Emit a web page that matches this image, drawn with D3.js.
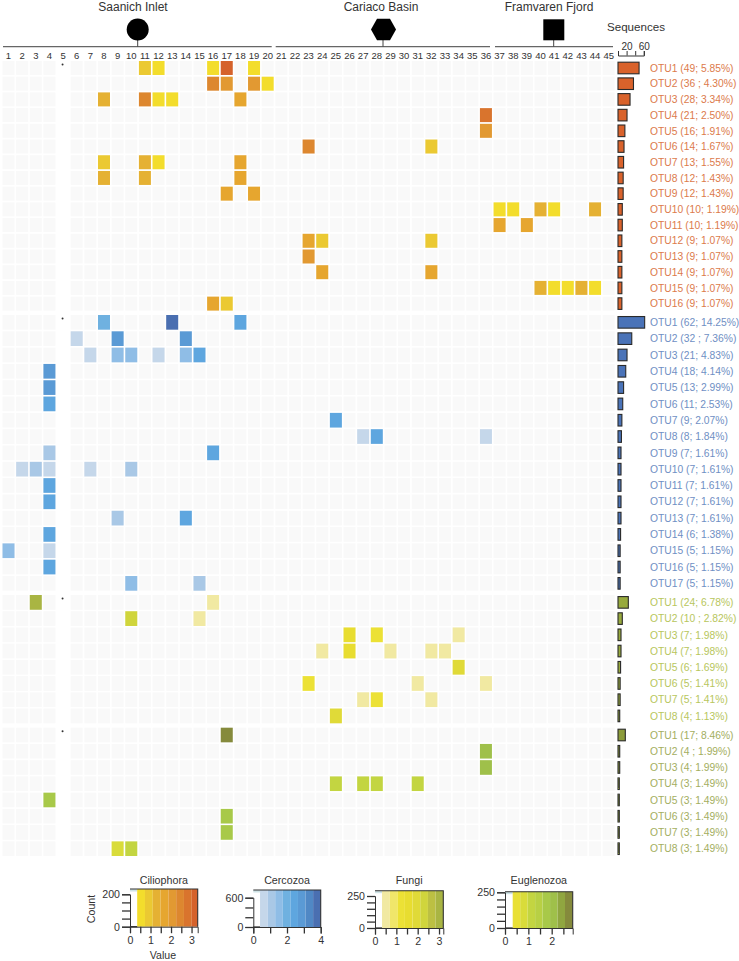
<!DOCTYPE html>
<html>
<head>
<meta charset="utf-8">
<script src="https://cdnjs.cloudflare.com/ajax/libs/d3/7.8.5/d3.min.js"></script>
<style>
  body { margin: 0; background: #fff; }
  text { font-family: "Liberation Sans", Arial, sans-serif; fill: #333; }
  .domain { stroke: #333; }
</style>
</head>
<body>
<div id="chart"></div>
<script>
// site columns
var columns = d3.range(1, 46);
var sites = ["Saanich Inlet", "Cariaco Basin", "Framvaren Fjord"];
var sequenceTicks = [0, 20, 40, 60];

// counts and percentages next to each OTU, top to bottom
var ciliophoraCounts = [49, 36, 28, 21, 16, 14, 13, 12, 12, 10, 10, 9, 9, 9, 9, 9];
var ciliophoraPct = ["49; 5.85%", "36 ; 4.30%", "28; 3.34%", "21; 2.50%", "16; 1.91%", "14; 1.67%", "13; 1.55%", "12; 1.43%", "12; 1.43%", "10; 1.19%", "10; 1.19%", "9; 1.07%", "9; 1.07%", "9; 1.07%", "9; 1.07%", "9; 1.07%"];
var cercozoaCounts = [62, 32, 21, 18, 13, 11, 9, 8, 7, 7, 7, 7, 7, 6, 5, 5, 5];
var cercozoaPct = ["62; 14.25%", "32 ; 7.36%", "21; 4.83%", "18; 4.14%", "13; 2.99%", "11; 2.53%", "9; 2.07%", "8; 1.84%", "7; 1.61%", "7; 1.61%", "7; 1.61%", "7; 1.61%", "7; 1.61%", "6; 1.38%", "5; 1.15%", "5; 1.15%", "5; 1.15%"];
var fungiCounts = [24, 10, 7, 7, 6, 5, 5, 4];
var fungiPct = ["24; 6.78%", "10 ; 2.82%", "7; 1.98%", "7; 1.98%", "6; 1.69%", "5; 1.41%", "5; 1.41%", "4; 1.13%"];
var euglenozoaCounts = [17, 4, 4, 3, 3, 3, 3, 3];
var euglenozoaPct = ["17; 8.46%", "4 ; 1.99%", "4; 1.99%", "3; 1.49%", "3; 1.49%", "3; 1.49%", "3; 1.49%", "3; 1.49%"];

// heatmap cells: [otu row, site column, value]
var ciliophoraCells = [
  [1,11,1.1],[1,12,.69],[1,16,.69],[1,17,3.2],[1,19,.69],
  [2,16,2.4],[2,17,2.0],[2,19,2.0],[2,20,.69],
  [3,8,1.39],[3,11,2.6],[3,12,.69],[3,13,.69],[3,18,1.6],
  [4,36,2.8],[5,36,2.2],[6,23,2.6],[6,32,1.1],
  [7,8,1.1],[7,11,1.39],[7,12,.69],[7,18,1.6],
  [8,8,1.39],[8,11,1.39],[8,18,1.6],
  [9,17,1.6],[9,19,1.6],
  [10,37,.69],[10,38,.69],[10,40,1.39],[10,41,.69],[10,44,1.39],
  [11,37,1.6],[11,39,1.6],
  [12,23,1.8],[12,24,1.1],[12,32,1.1],
  [13,23,2.0],[14,24,1.6],[14,32,1.6],
  [15,40,1.39],[15,41,.69],[15,42,.69],[15,43,1.39],[15,44,.69],
  [16,16,1.6],[16,17,1.1]
];
var cercozoaCells = [
  [1,8,2.0],[1,13,3.8],[1,18,2.4],
  [2,6,.69],[2,9,3.0],[2,14,2.8],
  [3,7,.69],[3,9,1.39],[3,10,1.39],[3,12,.69],[3,14,1.39],[3,15,2.4],
  [4,4,3.0],[5,4,3.0],[6,4,2.4],[7,25,2.4],
  [8,27,.69],[8,28,2.4],[8,36,.69],
  [9,4,1.1],[9,16,2.4],
  [10,2,.69],[10,3,1.1],[10,4,.69],[10,7,.69],[10,10,1.1],
  [11,4,2.4],[12,4,2.4],
  [13,9,1.1],[13,14,2.4],
  [14,4,2.4],[15,1,1.39],[15,4,.69],[16,4,2.4],
  [17,10,1.39],[17,15,1.1]
];
var fungiCells = [
  [1,3,3.0],[1,16,.5],
  [2,10,2.3],[2,15,.5],
  [3,26,1.5],[3,28,1.2],[3,34,.5],
  [4,24,.5],[4,26,1.5],[4,29,.5],[4,32,.5],[4,33,.5],
  [5,34,1.9],
  [6,23,1.2],[6,31,.5],[6,36,.5],
  [7,27,.5],[7,28,1.2],[7,32,.5],
  [8,25,1.9]
];
var euglenozoaCells = [
  [1,17,2.7],[2,36,2.1],[3,36,2.1],
  [4,25,1.1],[4,27,1.1],[4,28,1.1],[4,31,1.1],
  [5,4,1.8],[6,17,1.8],[7,17,1.8],
  [8,9,.8],[8,10,1.1]
];

// colour keys
var ciliophoraBreaks = [.35,.73,1.11,1.49,1.87,2.25,2.63,3.01,3.3];
var ciliophoraColors = ["#f3dd2c","#ebc932","#e5b133","#e6a62f","#e29932","#dd872f","#d9742d","#d5622b"];
var cercozoaBreaks = [.4,.85,1.3,1.75,2.2,2.65,3.1,3.55,4];
var cercozoaColors = ["#c5d7ea","#a9c8e6","#8fbde6","#6fb1e0","#5ea6df","#5a9ad5","#5088c5","#4a6fb1"];
var fungiBreaks = [.33,.69,1.05,1.4,1.76,2.12,2.48,2.84,3.2];
var fungiColors = ["#f1e9a2","#f0e66a","#ece135","#e8dd30","#e0da38","#d0d53c","#bcc043","#a9b543"];
var euglenozoaBreaks = [.33,.65,.97,1.29,1.61,1.93,2.25,2.57,2.9];
var euglenozoaColors = ["#e9e035","#d9dc3a","#c3d541","#b8d044","#a8c949","#9fc04a","#90a640","#858a3c"];

var svg = d3.select("#chart").append("svg")
    .attr("width", 739)
    .attr("height", 961);

var x = d3.scaleBand().domain(columns).range([2.5, 614.7]).paddingInner(0.12);
var seqX = d3.scaleLinear().domain([0, 60]).range([618, 643.8]);

// top of the chart: site names, glyphs, brackets
var siteBrackets = [[3, 271.7, 133, 137.7], [275.7, 490, 381, 383], [495, 613, 549, 553.7]];
sites.forEach(function(name, i) {
  var b = siteBrackets[i];
  svg.append("text").attr("x", b[2]).attr("y", 11)
      .attr("text-anchor", "middle").style("font-size", "12px").text(name);
  svg.append("line").attr("x1", b[0]).attr("x2", b[1]).attr("y1", 46.7).attr("y2", 46.7)
      .attr("stroke", "#666").attr("stroke-width", 1.3);
  svg.append("line").attr("x1", b[3]).attr("x2", b[3]).attr("y1", 38).attr("y2", 46.7)
      .attr("stroke", "#444").attr("stroke-width", 1);
});
svg.append("circle").attr("cx", 137.7).attr("cy", 29.5).attr("r", 11).attr("fill", "#000");
svg.append("path").attr("transform", "translate(383.5,29.5)")
    .attr("d", d3.line()([[-12.5,0],[-6.5,-10.7],[6.5,-10.7],[12.5,0],[6.5,10.7],[-6.5,10.7]]) + "Z")
    .attr("fill", "#000");
svg.append("rect").attr("x", 543.3).attr("y", 19.3).attr("width", 21).attr("height", 21).attr("fill", "#000");

// column numbers
svg.selectAll(".collabel").data(columns).enter().append("text")
    .attr("class", "collabel")
    .attr("x", function(d) { return x(d) + x.bandwidth() / 2; })
    .attr("y", 58.5)
    .attr("text-anchor", "middle")
    .style("font-size", "9.5px")
    .text(function(d) { return d; });

// sequences axis
svg.append("text").attr("x", 636).attr("y", 31).attr("text-anchor", "middle")
    .style("font-size", "11.6px").text("Sequences");
var seqAxis = svg.append("g").attr("transform", "translate(0,55.5)")
    .call(d3.axisTop(seqX).tickValues(sequenceTicks).tickSizeOuter(0).tickSize(4.5).tickPadding(1.5)
      .tickFormat(function(d) { return d == 20 || d == 60 ? d : ""; }));
seqAxis.selectAll("text").style("font-size", "10px");
seqAxis.selectAll("line").attr("stroke", "#333");

function drawGroup(o) {
  var rows = d3.range(1, o.counts.length + 1);
  var y = d3.scaleBand().domain(rows).range([o.top, o.bottom]).paddingInner(o.gap);
  var color = d3.scaleThreshold().domain(o.breaks.slice(1, -1)).range(o.colors);
  var g = svg.append("g");

  // empty grid, column 5 stays blank
  rows.forEach(function(r) {
    g.selectAll(null).data(columns.filter(function(c) { return c != 5; })).enter().append("rect")
        .attr("x", function(d) { return x(d); })
        .attr("y", y(r))
        .attr("width", x.bandwidth())
        .attr("height", y.bandwidth())
        .attr("fill", "#f9f9f9");
  });

  g.selectAll(null).data(o.cells).enter().append("rect")
      .attr("x", function(d) { return x(d[1]); })
      .attr("y", function(d) { return y(d[0]); })
      .attr("width", x.bandwidth())
      .attr("height", y.bandwidth())
      .attr("fill", function(d) { return color(d[2]); });

  // the small dot in the blank column
  g.append("circle").attr("cx", x(5) + 5.5).attr("cy", y(1) + 3.5).attr("r", 1).attr("fill", "#333");

  g.selectAll(null).data(rows).enter().append("rect")
      .attr("x", seqX(0))
      .attr("y", function(r) { return y(r) + y.bandwidth() / 2 - 5.8; })
      .attr("width", function(r) { return seqX(o.counts[r - 1]) - seqX(0); })
      .attr("height", 11.6)
      .attr("fill", o.barColor)
      .attr("stroke", "#2a2a2a")
      .attr("stroke-width", 1.1);

  g.selectAll(null).data(rows).enter().append("text")
      .attr("x", 650)
      .attr("y", function(r) { return y(r) + y.bandwidth() / 2 + 3.7; })
      .style("font-size", "10.3px")
      .style("fill", o.labelColor)
      .text(function(r) { return "OTU" + r + " (" + o.pct[r - 1] + ")"; });
}

drawGroup({ counts: ciliophoraCounts, pct: ciliophoraPct, cells: ciliophoraCells, breaks: ciliophoraBreaks, colors: ciliophoraColors,
  top: 61, bottom: 310.6, gap: 0.11, barColor: "#d9622b", labelColor: "#dc7a4b" });
drawGroup({ counts: cercozoaCounts, pct: cercozoaPct, cells: cercozoaCells, breaks: cercozoaBreaks, colors: cercozoaColors,
  top: 315, bottom: 590.7, gap: 0.1, barColor: "#4a73b8", labelColor: "#6f8fc4" });
drawGroup({ counts: fungiCounts, pct: fungiPct, cells: fungiCells, breaks: fungiBreaks, colors: fungiColors,
  top: 595, bottom: 723.3, gap: 0.09, barColor: "#98aa3e", labelColor: "#b7c65c" });
drawGroup({ counts: euglenozoaCounts, pct: euglenozoaPct, cells: euglenozoaCells, breaks: euglenozoaBreaks, colors: euglenozoaColors,
  top: 727.7, bottom: 856, gap: 0.1, barColor: "#8c9c3b", labelColor: "#a3ae5e" });

// colour key with histogram outline
function drawKey(o) {
  var kx = d3.scaleLinear().domain([0, o.maxV]).range([o.x0, o.x1]);
  var ky = d3.scaleLinear().domain([0, o.yTick]).range([o.y0, o.yT]);
  var g = svg.append("g");
  g.append("rect").attr("x", o.x0).attr("y", o.yTop).attr("width", o.x1 - o.x0).attr("height", o.y0 - o.yTop).attr("fill", "#fff");
  g.append("rect").attr("x", o.x0).attr("y", o.yTop).attr("width", kx(o.breaks[0]) - o.x0).attr("height", 2.5).attr("fill", "#cfe3e6");
  g.selectAll(null).data(o.colors).enter().append("rect")
      .attr("x", function(d, i) { return kx(o.breaks[i]); })
      .attr("y", o.yTop)
      .attr("width", function(d, i) { return kx(o.breaks[i + 1]) - kx(o.breaks[i]); })
      .attr("height", o.y0 - o.yTop)
      .attr("fill", function(d) { return d; });
  g.append("path").attr("d", d3.line()([[o.x0, o.yTop], [o.x1, o.yTop], [o.x1, o.y0]]))
      .attr("fill", "none").attr("stroke", "#333").attr("stroke-width", 1.1);
  g.append("line").attr("x1", o.x0).attr("x2", kx(o.breaks[0])).attr("y1", o.y0).attr("y2", o.y0)
      .attr("stroke", "#222").attr("stroke-width", 1.2);

  var ax = g.append("g").attr("transform", "translate(0," + o.y0 + ")")
      .call(d3.axisBottom(kx).tickValues(o.xTicks).tickSizeOuter(0).tickSize(6.5).tickPadding(3)
        .tickFormat(function(d) { return o.xLabels.indexOf(d) >= 0 ? d : ""; }));
  var ay = g.append("g").attr("transform", "translate(" + o.x0 + ",0)")
      .call(d3.axisLeft(ky).tickValues(o.yTicks).tickSizeOuter(0).tickSize(8).tickPadding(2)
        .tickFormat(function(d) { return d == 0 || d == o.yTick ? d : ""; }));
  ax.selectAll("text").style("font-size", "10.6px");
  ay.selectAll("text").style("font-size", "10.6px");
  ax.selectAll("line").attr("stroke", "#333").attr("stroke-width", 1.3);
  ay.selectAll("line").attr("stroke", "#333").attr("stroke-width", 1.3);
  ax.select(".domain").attr("stroke-width", 1);
  ay.select(".domain").attr("stroke", "#555");

  g.append("text").attr("x", (o.x0 + o.x1) / 2).attr("y", 884).attr("text-anchor", "middle")
      .style("font-size", "10.7px").text(o.title);
}

drawKey({ title: "Ciliophora", breaks: ciliophoraBreaks, colors: ciliophoraColors, maxV: 3.3, x0: 130, x1: 197.7, yTop: 889, y0: 926.7, yT: 894.3, yTick: 200,
  xTicks: d3.range(0, 3.5, .5), xLabels: [0, 1, 2, 3], yTicks: d3.range(0, 201, 50) });
drawKey({ title: "Cercozoa", breaks: cercozoaBreaks, colors: cercozoaColors, maxV: 4, x0: 253.3, x1: 320.7, yTop: 890, y0: 927, yT: 897.7, yTick: 600,
  xTicks: d3.range(0, 5), xLabels: [0, 2, 4], yTicks: d3.range(0, 601, 200) });
drawKey({ title: "Fungi", breaks: fungiBreaks, colors: fungiColors, maxV: 3.2, x0: 375, x1: 443.3, yTop: 890.7, y0: 928, yT: 896, yTick: 250,
  xTicks: d3.range(0, 3.5, .5), xLabels: [0, 1, 2, 3], yTicks: d3.range(0, 251, 50) });
drawKey({ title: "Euglenozoa", breaks: euglenozoaBreaks, colors: euglenozoaColors, maxV: 2.9, x0: 505, x1: 572.7, yTop: 891.7, y0: 928, yT: 892.3, yTick: 250,
  xTicks: d3.range(0, 3, .5), xLabels: [0, 1, 2], yTicks: d3.range(0, 251, 50) });

svg.append("text").attr("transform", "translate(95,909) rotate(-90)").attr("text-anchor", "middle")
    .style("font-size", "10.6px").text("Count");
svg.append("text").attr("x", 163).attr("y", 959).attr("text-anchor", "middle")
    .style("font-size", "10.6px").text("Value");
</script>
</body>
</html>
